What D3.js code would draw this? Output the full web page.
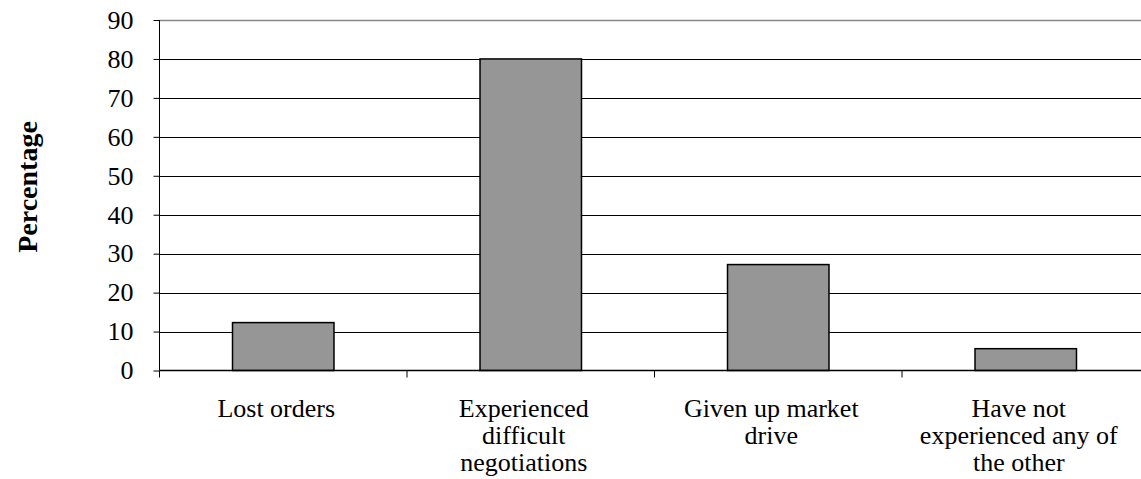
<!DOCTYPE html>
<html>
<head>
<meta charset="utf-8">
<script src="https://cdn.jsdelivr.net/npm/d3@7"></script>
<style>
  body { margin: 0; background: #fff; }
  svg { display: block; font-family: "Liberation Serif", "Times New Roman", serif; }
</style>
</head>
<body>
<svg id="chart" width="1141" height="479"></svg>
<script>
// Survey responses (percentage of respondents)
const categories = ["Lost orders", "Experienced difficult negotiations", "Given up market drive", "Have not experienced any of the other"];
const categoryLines = [
  ["Lost orders"],
  ["Experienced", "difficult", "negotiations"],
  ["Given up market", "drive"],
  ["Have not", "experienced any of", "the other"]
];
const values = [12.3, 80, 27.2, 5.6];
const yTicks = [0, 10, 20, 30, 40, 50, 60, 70, 80, 90];

const svg = d3.select("#chart");
const plotLeft = 159.5, plotTop = 20, plotBottom = 370.5, step = 247.5;
const plotRight = plotLeft + step * categories.length;

const x = d3.scaleBand().domain(categories).range([plotLeft, plotRight]).padding(0);
const y = d3.scaleLinear().domain([0, 90]).range([plotBottom, plotTop]);

// horizontal gridlines
svg.append("g").selectAll("line").data(yTicks.filter(d => d > 0)).join("line")
  .attr("x1", plotLeft).attr("x2", plotRight)
  .attr("y1", d => Math.round(y(d)) + 0.5).attr("y2", d => Math.round(y(d)) + 0.5)
  .attr("stroke", d => d === 90 ? "#888" : "#000")
  .attr("stroke-width", d => d === 90 ? 1.5 : 1);

// bars
const barW = x.bandwidth() * 0.41;
svg.append("g").selectAll("rect").data(values).join("rect")
  .attr("x", (d, i) => x(categories[i]) + (x.bandwidth() - barW) / 2)
  .attr("width", barW)
  .attr("y", d => y(d))
  .attr("height", d => y(0) - y(d))
  .attr("fill", "#969696")
  .attr("stroke", "#000")
  .attr("stroke-width", 1.5);

// y axis
const yAxis = d3.axisLeft(y).tickValues(yTicks).tickSize(6).tickPadding(20);
const gy = svg.append("g").attr("transform", `translate(${plotLeft},0)`).call(yAxis);
gy.attr("font-size", null).attr("font-family", null);
gy.select(".domain").attr("stroke", "#000").attr("d", `M0,${plotTop}V${plotBottom}`);
gy.selectAll(".tick line").attr("stroke", "#000");
gy.selectAll(".tick text").style("font-size", "26px").attr("fill", "#000");

// x axis baseline with category boundary ticks
svg.append("line").attr("x1", plotLeft).attr("x2", plotRight)
  .attr("y1", plotBottom).attr("y2", plotBottom).attr("stroke", "#000").attr("stroke-width", 1.5);
const bounds = d3.range(categories.length + 1).map(i => plotLeft + i * step);
svg.append("g").selectAll("line").data(bounds).join("line")
  .attr("x1", d => d).attr("x2", d => d)
  .attr("y1", plotBottom).attr("y2", plotBottom + 7)
  .attr("stroke", "#000");

// category labels, wrapped onto several lines
const lab = svg.append("g").style("font-size", "26px").attr("fill", "#000").attr("text-anchor", "middle");
categoryLines.forEach((lines, i) => {
  const cx = x(categories[i]) + x.bandwidth() / 2 - 7;
  const t = lab.append("text").attr("x", cx).attr("y", 417);
  lines.forEach((s, j) => t.append("tspan")
    .attr("x", cx)
    .attr("dy", j === 0 ? 0 : 27).text(s));
});

// y axis title
svg.append("text")
  .attr("transform", `translate(37,187) rotate(-90)`)
  .attr("text-anchor", "middle")
  .style("font-size", "28px").attr("font-weight", "bold").attr("fill", "#000")
  .text("Percentage");
</script>
</body>
</html>
